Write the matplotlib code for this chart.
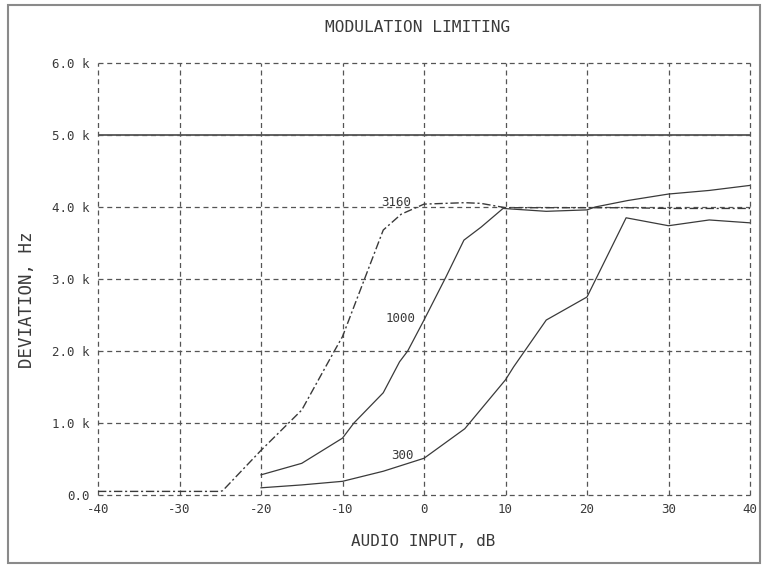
import matplotlib.pyplot as plt
from matplotlib.patches import Rectangle

# audio input (dB) vs deviation (kHz)
x_3160 = [-40, -35, -30, -25, -24.7, -20, -15, -11, -10, -5, -2.8, 0, 5, 7, 10, 15, 20, 25, 30, 35, 40]
y_3160 = [0.05, 0.05, 0.05, 0.05, 0.06, 0.62, 1.18, 2.0, 2.2, 3.68, 3.9, 4.04, 4.06, 4.05, 3.99, 3.99, 3.99, 3.99, 3.98, 3.98, 3.98]

x_1000 = [-20, -15, -10, -8.6, -5, -3, -2, 0, 2.7, 4.9, 7, 9.7, 15, 20, 21, 25, 30, 35, 40]
y_1000 = [0.28, 0.44, 0.79, 1.0, 1.42, 1.85, 2.0, 2.43, 3.03, 3.54, 3.72, 3.98, 3.94, 3.96, 4.0, 4.09, 4.18, 4.23, 4.3]

x_300 = [-20, -15, -10, -5, 0, 5, 10, 11, 15, 20, 24.8, 30, 35, 40]
y_300 = [0.1, 0.14, 0.19, 0.33, 0.51, 0.92, 1.6, 1.78, 2.43, 2.75, 3.85, 3.74, 3.82, 3.78]

limit_level = 5.0

x_ticks = [-40, -30, -20, -10, 0, 10, 20, 30, 40]
y_ticks = [0, 1, 2, 3, 4, 5, 6]
y_tick_labels = ['0.0', '1.0 k', '2.0 k', '3.0 k', '4.0 k', '5.0 k', '6.0 k']

INK = '#3a3a3a'
GRID = '#555555'
MONO = 'DejaVu Sans Mono'

fig = plt.figure(figsize=(7.65, 5.65), dpi=100)
ax = fig.add_axes([98 / 765, 70 / 565, 652 / 765, 432 / 565])

# grid drawn by hand so the edge lines are full width and dashed like the frame
for xv in x_ticks:
    ax.axvline(xv, color=GRID, lw=0.9, ls=(0, (4, 3)), clip_on=False, zorder=1)
for yv in y_ticks:
    ax.axhline(yv, color=GRID, lw=0.9, ls=(0, (4, 3)), clip_on=False, zorder=1)

ax.axhline(limit_level, color='#555555', lw=1.3, zorder=2)

ax.plot(x_3160, y_3160, color=INK, lw=1.0, ls=(0, (6, 2, 1.5, 2)), zorder=3)
ax.plot(x_1000, y_1000, color=INK, lw=0.9, zorder=3)
ax.plot(x_300, y_300, color=INK, lw=0.9, zorder=3)

ax.text(-5.3, 4.06, '3160', fontsize=9, family=MONO, color=INK, ha='left', va='center')
ax.text(-2.9, 2.45, '1000', fontsize=9, family=MONO, color=INK, ha='center', va='center')
ax.text(-2.6, 0.55, '300', fontsize=9, family=MONO, color=INK, ha='center', va='center')

ax.set_xlim(-40, 40)
ax.set_ylim(0, 6)
ax.set_xticks(x_ticks)
ax.set_xticklabels([str(v) for v in x_ticks], family=MONO, fontsize=9, color=INK)
ax.set_yticks(y_ticks)
ax.set_yticklabels(y_tick_labels, family=MONO, fontsize=9, color=INK)
ax.tick_params(length=0, pad=6)
for sp in ax.spines.values():
    sp.set_visible(False)

fig.text(418 / 765, 1 - 28 / 565, 'MODULATION LIMITING', family=MONO, fontsize=11.7,
         color=INK, ha='center', va='center')
fig.text(423 / 765, 1 - 542 / 565, 'AUDIO INPUT, dB', family=MONO, fontsize=11.5,
         color=INK, ha='center', va='center')
fig.text(27 / 765, 1 - 300 / 565, 'DEVIATION, Hz', family=MONO, fontsize=12.5,
         color=INK, ha='center', va='center', rotation=90)

# outer frame around the whole picture
fig.patches.append(Rectangle((8 / 765, 2 / 565), 752 / 765, 558 / 565, transform=fig.transFigure,
                             fill=False, edgecolor='#8a8a8a', lw=1.5))

fig.savefig('out.png', dpi=100)
